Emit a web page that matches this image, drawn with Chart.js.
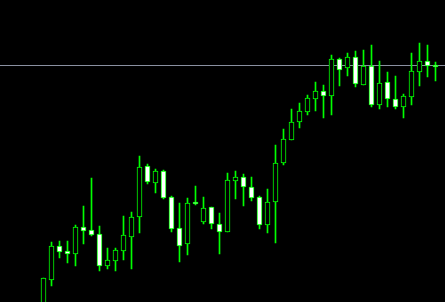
<!DOCTYPE html>
<html>
<head>
<meta charset="utf-8">
<script src="https://cdn.jsdelivr.net/npm/chart.js@4"></script>
<style>
html,body{margin:0;padding:0;background:#000;}
canvas{display:block;}
</style>
</head>
<body>
<canvas id="c" width="445" height="302"></canvas>
<script>
const labels = Array.from({length: 50}, (_, i) => 'Bar ' + (i + 1));
const opens  = [1.2992,1.3022,1.3056,1.3051,1.3048,1.3075,1.3072,1.3068,1.3036,1.3041,
                1.3051,1.3065,1.3085,1.3136,1.3119,1.3131,1.3105,1.3074,1.3058,1.3100,
                1.3080,1.3095,1.3078,1.3070,1.3121,1.3125,1.3115,1.3105,1.3077,1.3100,
                1.3139,1.3162,1.3180,1.3190,1.3203,1.3211,1.3206,1.3243,1.3234,1.3245,
                1.3217,1.3236,1.3197,1.3220,1.3203,1.3195,1.3205,1.3230,1.3241,1.3237];
const highs  = [1.3024,1.3060,1.3061,1.3061,1.3077,1.3096,1.3124,1.3076,1.3054,1.3054,
                1.3086,1.3090,1.3146,1.3138,1.3133,1.3132,1.3106,1.3099,1.3104,1.3116,
                1.3105,1.3095,1.3089,1.3129,1.3131,1.3128,1.3125,1.3106,1.3113,1.3157,
                1.3173,1.3193,1.3199,1.3207,1.3220,1.3217,1.3247,1.3244,1.3249,1.3251,
                1.3252,1.3257,1.3241,1.3230,1.3226,1.3208,1.3249,1.3259,1.3257,1.3240];
const lows   = [1.2982,1.3016,1.3044,1.3039,1.3036,1.3058,1.3066,1.3031,1.3033,1.3031,
                1.3042,1.3033,1.3069,1.3118,1.3109,1.3103,1.3070,1.3040,1.3047,1.3097,
                1.3078,1.3073,1.3048,1.3070,1.3103,1.3096,1.3101,1.3073,1.3069,1.3059,
                1.3137,1.3162,1.3174,1.3187,1.3191,1.3184,1.3187,1.3216,1.3226,1.3215,
                1.3217,1.3195,1.3193,1.3195,1.3193,1.3184,1.3197,1.3216,1.3225,1.3221];
const closes = [1.3024,1.3056,1.3050,1.3048,1.3075,1.3071,1.3067,1.3036,1.3042,1.3052,
                1.3067,1.3085,1.3135,1.3120,1.3131,1.3104,1.3073,1.3056,1.3099,1.3098,
                1.3094,1.3078,1.3070,1.3122,1.3125,1.3115,1.3104,1.3077,1.3100,1.3139,
                1.3163,1.3180,1.3191,1.3204,1.3211,1.3206,1.3243,1.3232,1.3245,1.3218,
                1.3236,1.3197,1.3219,1.3203,1.3195,1.3206,1.3231,1.3241,1.3236,1.3235];
const priceLine = 1.3237;
const yMin = 1.3000, yMax = 1.3302;

const green = '#00ff00';
const bodies = opens.map((o, i) => [o, closes[i]]);
const wicks = lows.map((l, i) => [l, highs[i]]);
const bodyFill = opens.map((o, i) => closes[i] >= o ? '#000000' : '#ffffff');

const bgPlugin = {
  id: 'bg',
  beforeDraw(chart) {
    const ctx = chart.ctx;
    ctx.save();
    ctx.fillStyle = '#000';
    ctx.fillRect(0, 0, chart.width, chart.height);
    ctx.restore();
  }
};
const linePlugin = {
  id: 'priceLine',
  beforeDatasetsDraw(chart) {
    const y = Math.round(chart.scales.y.getPixelForValue(priceLine)) + 0.5;
    const ctx = chart.ctx;
    ctx.save();
    ctx.strokeStyle = '#8a90a0';
    ctx.lineWidth = 1;
    ctx.beginPath();
    ctx.moveTo(0, y);
    ctx.lineTo(chart.width, y);
    ctx.stroke();
    ctx.restore();
  }
};

new Chart(document.getElementById('c'), {
  type: 'bar',
  data: {
    labels: labels,
    datasets: [
      {
        label: 'Body',
        data: bodies,
        backgroundColor: bodyFill,
        borderColor: green,
        borderWidth: 1,
        borderSkipped: false,
        barThickness: 5,
        minBarLength: 2,
        grouped: false
      },
      {
        label: 'Wick',
        data: wicks,
        backgroundColor: green,
        borderWidth: 0,
        barThickness: 1,
        grouped: false
      }
    ]
  },
  options: {
    responsive: false,
    animation: false,
    layout: { padding: { left: 39.5, right: 5.5, top: 0, bottom: 0 } },
    plugins: { legend: { display: false }, tooltip: { enabled: false } },
    scales: {
      x: { display: false, offset: true, grid: { display: false } },
      y: { display: false, min: yMin, max: yMax, grid: { display: false } }
    }
  },
  plugins: [bgPlugin, linePlugin]
});
</script>
</body>
</html>
